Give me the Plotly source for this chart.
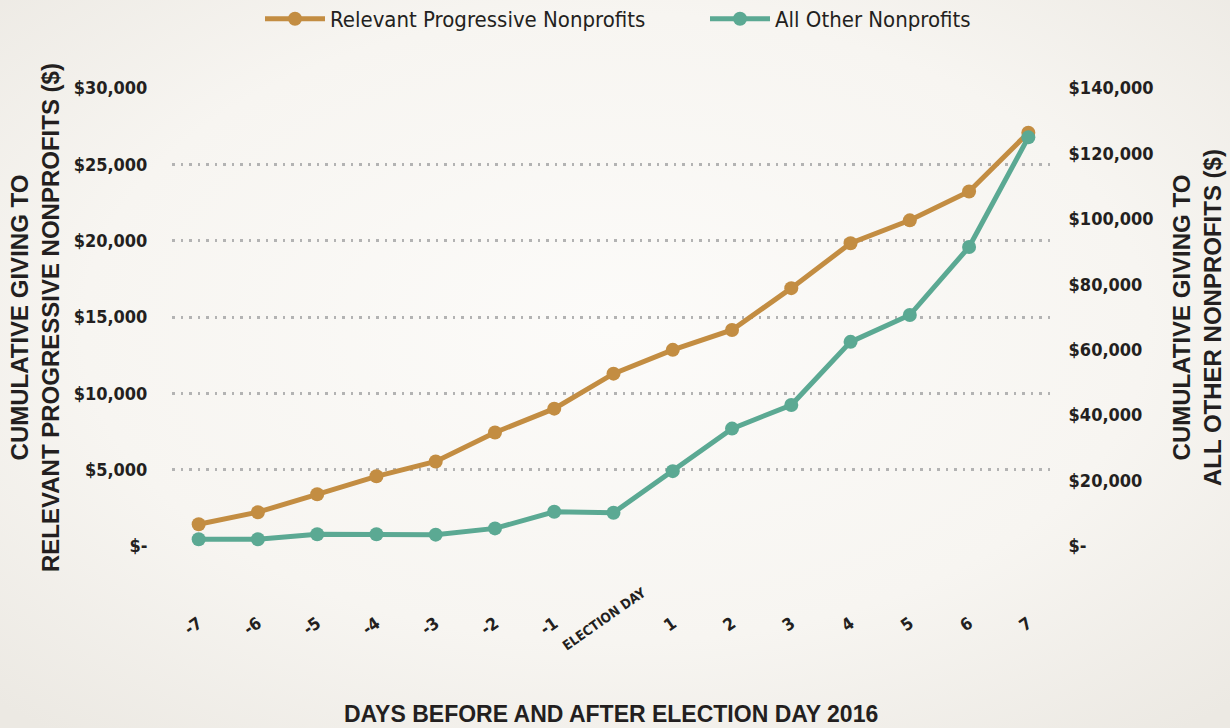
import plotly.graph_objects as go
import base64

days = ["-7", "-6", "-5", "-4", "-3", "-2", "-1", "ELECTION DAY", "1", "2", "3", "4", "5", "6", "7"]
progressive = [1430, 2220, 3390, 4570, 5540, 7440, 9000, 11290, 12850, 14150, 16890, 19830, 21330, 23220, 27070]
all_other = [2100, 2100, 3600, 3600, 3500, 5400, 10500, 10200, 22900, 35900, 43100, 62400, 70600, 91400, 124900]
day_labels = ["-7", "-6", "-5", "-4", "-3", "-2", "-1", "", "1", "2", "3", "4", "5", "6", "7"]
election_label = "ELECTION DAY"

left_ticks = [0, 5000, 10000, 15000, 20000, 25000, 30000]
left_text = ["$-", "$5,000", "$10,000", "$15,000", "$20,000", "$25,000", "$30,000"]
right_ticks = [0, 20000, 40000, 60000, 80000, 100000, 120000, 140000]
right_text = ["$-", "$20,000", "$40,000", "$60,000", "$80,000", "$100,000", "$120,000", "$140,000"]

ORANGE = "#C38D42"
TEAL = "#5BA993"
TXT = "#231F20"
NARROW = "Liberation Sans Narrow, DejaVu Sans Condensed, Arial Narrow, sans-serif"
BOLD = "Liberation Sans, Arial, sans-serif"

W, H = 1230, 728
L, R, T, B = 172, 175, 87, 181
PW, PH = W - L - R, H - T - B

svg = ('<svg xmlns="http://www.w3.org/2000/svg" width="1230" height="728">'
       '<defs><radialGradient id="g" cx="50%" cy="45%" r="72%">'
       '<stop offset="0%" stop-color="#FCFBF9"/><stop offset="60%" stop-color="#F7F5F1"/>'
       '<stop offset="100%" stop-color="#ECE9E3"/></radialGradient></defs>'
       '<rect width="1230" height="728" fill="url(#g)"/></svg>')
bg = "data:image/svg+xml;base64," + base64.b64encode(svg.encode()).decode()

fig = go.Figure()
fig.add_trace(go.Scatter(x=days, y=progressive, name="Relevant Progressive Nonprofits",
                         mode="lines+markers", line=dict(color=ORANGE, width=5),
                         marker=dict(color=ORANGE, size=14), yaxis="y", legend="legend"))
fig.add_trace(go.Scatter(x=days, y=all_other, name="All Other Nonprofits",
                         mode="lines+markers", line=dict(color=TEAL, width=5),
                         marker=dict(color=TEAL, size=14), yaxis="y2", legend="legend2"))

title_font = dict(family=BOLD, size=24, color=TXT, weight="bold")
leg_common = dict(orientation="h", xanchor="left", y=1 - 19 / H, yref="container",
                  yanchor="middle", font=dict(family=NARROW, size=22, color=TXT),
                  bgcolor="rgba(0,0,0,0)", itemwidth=60)

fig.update_layout(
    width=W, height=H,
    paper_bgcolor="#F6F4F0", plot_bgcolor="rgba(0,0,0,0)",
    margin=dict(l=L, r=R, t=T, b=B),
    images=[dict(source=bg, xref="paper", yref="paper", x=-L / PW, y=1 + T / PH,
                 sizex=W / PW, sizey=H / PH, sizing="stretch", layer="below",
                 xanchor="left", yanchor="top")],
    showlegend=True,
    legend=dict(x=(260 - L) / PW, **leg_common),
    legend2=dict(x=(705 - L) / PW, **leg_common),
    xaxis=dict(type="category", tickangle=-35, showgrid=False, zeroline=False, showline=False,
               tickvals=days, ticktext=day_labels, automargin=False,
               tickfont=dict(family=NARROW, size=17, color=TXT, weight="bold"),
               ticks="outside", ticklen=59, tickcolor="rgba(0,0,0,0)",
               range=[-0.45, 14.45]),
    yaxis=dict(range=[-60, 30060], tickvals=left_ticks, ticktext=left_text, automargin=False,
               showgrid=True, gridcolor="#B3B3B3", griddash="2.5px,6px", gridwidth=2.5,
               zeroline=False, showline=False,
               tickfont=dict(family=NARROW, size=18, color=TXT, weight="bold"),
               ticks="outside", ticklen=20, tickcolor="rgba(0,0,0,0)"),
    yaxis2=dict(range=[-280, 140280], overlaying="y", side="right", tickvals=right_ticks,
                ticktext=right_text, showgrid=False, zeroline=False, showline=False, automargin=False,
                tickfont=dict(family=NARROW, size=18, color=TXT, weight="bold"),
                ticks="outside", ticklen=9, tickcolor="rgba(0,0,0,0)"),
    annotations=[
        dict(text=election_label, xref="x", yref="paper", x=election_label, xshift=-10,
             y=-(619 - T - PH) / PH, textangle=-35, showarrow=False,
             xanchor="center", yanchor="middle",
             font=dict(family=NARROW, size=13.5, color=TXT, weight="bold")),
        dict(text="DAYS BEFORE AND AFTER ELECTION DAY 2016", xref="paper", yref="paper",
             x=(611 - L) / PW, y=-(714 - T - PH) / PH, showarrow=False,
             xanchor="center", yanchor="middle", font=dict(family=BOLD, size=23, color=TXT, weight="bold")),
        dict(text="CUMULATIVE GIVING TO<br>RELEVANT PROGRESSIVE NONPROFITS ($)", xref="paper",
             yref="paper", x=(35 - L) / PW, y=1 - (318 - T) / PH, textangle=-90, showarrow=False,
             xanchor="center", yanchor="middle", font=title_font),
        dict(text="CUMULATIVE GIVING TO<br>ALL OTHER NONPROFITS ($)", xref="paper",
             yref="paper", x=(1197 - L) / PW, y=1 - (318 - T) / PH, textangle=-90, showarrow=False,
             xanchor="center", yanchor="middle", font=title_font),
    ],
)

fig.write_html("out.html", config={"displayModeBar": False},
               post_script="document.body.style.margin='0';")
